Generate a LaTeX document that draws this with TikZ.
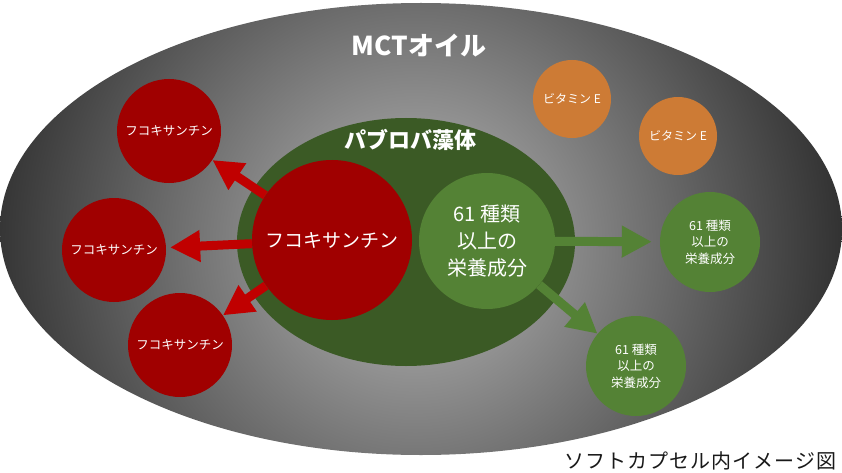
\documentclass[tikz,border=0pt]{standalone}
\usepackage{fontspec}
\newfontfamily\jp{Noto Sans CJK JP}
\usepackage{tikz}
\usetikzlibrary{arrows.meta}
\definecolor{fxred}{HTML}{A00000}
\definecolor{fxarrow}{HTML}{C00000}
\definecolor{algaedark}{HTML}{3B5A25}
\definecolor{nutgreen}{HTML}{548235}
\definecolor{vitorange}{HTML}{CD7B35}
\definecolor{oilin}{HTML}{BABABA}
\definecolor{oilout}{HTML}{2E2E2E}

\begin{document}
\begin{tikzpicture}[x=1pt, y=-1pt,
  ball/.style={circle, inner sep=0pt, text=white, align=center},
  fxsmall/.style={ball, fill=fxred, minimum size=104pt, font=\jp\fontsize{12.5}{15}\selectfont},
  nutsmall/.style={ball, fill=nutgreen, minimum size=100pt, font=\jp\fontsize{12.5}{16.5}\selectfont},
  vitball/.style={ball, fill=vitorange, minimum size=78pt, font=\jp\fontsize{12}{14}\selectfont},
  fatarrow/.style={line width=9pt, -{Triangle[length=30pt, width=30pt]}}]
  \useasboundingbox (0,0) rectangle (842,473);
  % oil capsule
  \begin{scope}
    \clip (421,229) ellipse (421 and 226);
    \shade[inner color=oilin, outer color=oilout] (415,245) circle (440);
  \end{scope}
  \node[text=white, font=\jp\bfseries\fontsize{26}{30}\selectfont] (mct) at (419,46) {MCTオイル};
  % pavlova cell
  \fill[algaedark] (406,242) ellipse (169 and 124);
  \node[text=white, font=\jp\bfseries\fontsize{22}{26}\selectfont] (pav) at (410,140) {パブロバ藻体};
  \node[ball, fill=fxred, minimum size=160pt, font=\jp\fontsize{19}{22}\selectfont] (fxbig) at (332,240) {フコキサンチン};
  \node[ball, fill=nutgreen, minimum size=136pt, font=\jp\fontsize{20}{27}\selectfont] (nutbig) at (487,241) {61 種類\\以上の\\栄養成分};
  % released
  \node[fxsmall] (fx1) at (169,131) {フコキサンチン};
  \node[fxsmall] (fx2) at (114,250) {フコキサンチン};
  \node[fxsmall] (fx3) at (180,345) {フコキサンチン};
  \node[nutsmall] (nut1) at (710,242) {61 種類\\以上の\\栄養成分};
  \node[nutsmall] (nut2) at (636,366) {61 種類\\以上の\\栄養成分};
  \node[vitball] (vit1) at (572,99) {ビタミン E};
  \node[vitball] (vit2) at (678,136) {ビタミン E};
  % arrows
  \draw[fatarrow, fxarrow] (fxbig) -- (fx1);
  \draw[fatarrow, fxarrow, shorten >=4pt] (fxbig) -- (fx2);
  \draw[fatarrow, fxarrow] (fxbig) -- (fx3);
  \draw[fatarrow, nutgreen, shorten >=8pt] (nutbig) -- (nut1);
  \draw[fatarrow, nutgreen] (nutbig) -- (nut2);
  \node[anchor=east, text=black!90, font=\jp\fontsize{20}{24}\selectfont\addfontfeature{LetterSpace=5}] (caption) at (840,461) {ソフトカプセル内イメージ図};
\end{tikzpicture}
\end{document}
